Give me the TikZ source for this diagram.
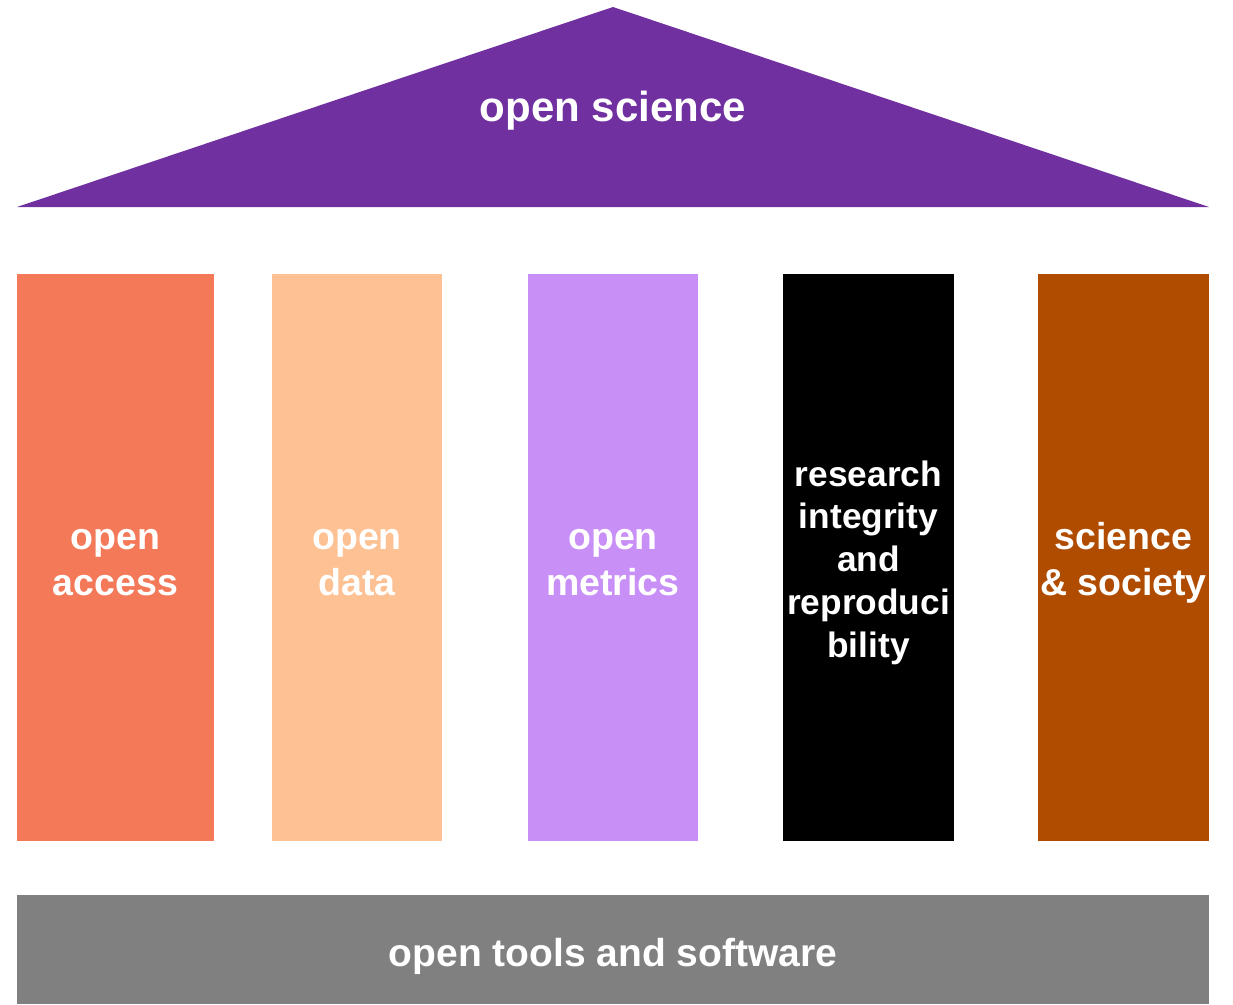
\documentclass[tikz,border=0pt]{standalone}
\usepackage{fontspec}
\setmainfont{Liberation Sans}
\definecolor{roofc}{HTML}{7030A0}
\definecolor{oac}{HTML}{F47958}
\definecolor{odc}{HTML}{FDC193}
\definecolor{omc}{HTML}{C890F6}
\definecolor{ssc}{HTML}{B04C00}
\definecolor{basec}{HTML}{808080}
\tikzset{
  pillar/.style={rectangle, inner sep=0pt, minimum height=567pt, fill=none},
  lbl/.style={text=white, inner sep=0pt, align=center},
  plbl/.style={lbl, font=\fontsize{37.5}{46}\selectfont\bfseries}
}
\begin{document}
\begin{tikzpicture}[x=1pt,y=-1pt]
\useasboundingbox[fill=white] (0,0) rectangle (1233,1004);
% roof
\fill[roofc] (613,7) -- (1209,207) -- (17,207) -- cycle;
\node[lbl, font=\fontsize{42}{50}\selectfont\bfseries] (roof) at (613,111) {open science};
% pillars
\node[pillar, fill=oac, minimum width=197pt] (oa) at (115.5,557.5) {};
\node[pillar, fill=odc, minimum width=170pt] (od) at (357,557.5) {};
\node[pillar, fill=omc, minimum width=170pt] (om) at (613,557.5) {};
\node[pillar, fill=black, minimum width=171pt] (ri) at (868.5,557.5) {};
\node[pillar, fill=ssc, minimum width=171pt] (ss) at (1123.5,557.5) {};
\node[plbl] (oat) at ([yshift=-5pt]oa.center) {open\\access};
\node[plbl] (odt) at ([yshift=-5pt]od.center) {open\\data};
\node[plbl] (omt) at ([yshift=-5pt]om.center) {open\\metrics};
\node[lbl, font=\fontsize{35.3}{42.8}\selectfont\bfseries] (rit) at ([yshift=-5pt]ri.center) {research\\integrity\\and\\reproduci\\bility};
\node[plbl] (sst) at ([yshift=-5pt]ss.center) {science\\\& society};
% base
\node[rectangle, fill=basec, inner sep=0pt, minimum width=1192pt, minimum height=109pt] (base) at (613,949.5) {};
\node[lbl, font=\fontsize{39}{46}\selectfont\bfseries] (basetxt) at (613,956) {open tools and software};
\end{tikzpicture}
\end{document}
